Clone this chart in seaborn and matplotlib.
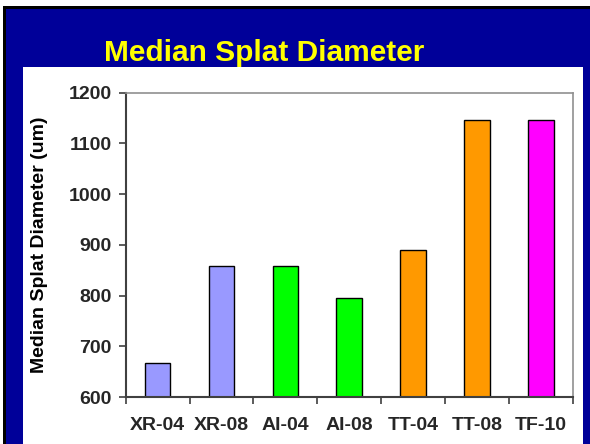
import matplotlib
matplotlib.use("Agg")
import matplotlib.pyplot as plt
from matplotlib.patches import Rectangle
import seaborn as sns
import pandas as pd

categories = ["XR-04", "XR-08", "AI-04", "AI-08", "TT-04", "TT-08", "TF-10"]
values = [668, 859, 859, 796, 890, 1146, 1146]
colors = ["#9999FF", "#9999FF", "#00FF00", "#00FF00", "#FF9900", "#FF9900", "#FF00FF"]
yticks = [600, 700, 800, 900, 1000, 1100, 1200]
title = "Median Splat Diameter"
ylabel = "Median Splat Diameter (um)"

sns.set_theme(style="white")
plt.rcParams["font.family"] = ["Liberation Sans", "DejaVu Sans"]
plt.rcParams["font.weight"] = "bold"

W, H = 590, 444
fig = plt.figure(figsize=(W / 100, H / 100), dpi=100)
fig.patch.set_facecolor("white")

def frect(x0, y0, x1, y1, color):
    # pixel coords (top-left origin) -> figure fraction
    fig.patches.append(Rectangle((x0 / W, 1 - y1 / H), (x1 - x0) / W, (y1 - y0) / H,
                                 transform=fig.transFigure, facecolor=color,
                                 edgecolor="none", zorder=-10))

frect(3, 6, W, H + 5, "black")
frect(6, 9, W, H + 5, "#000099")
frect(23, 67, 583, H + 5, "white")

ax = fig.add_axes([125.7 / W, 1 - 397 / H, (572.7 - 125.7) / W, (397 - 92.7) / H])
ax.set_facecolor("white")

df = pd.DataFrame({"cat": categories, "val": values})
sns.barplot(data=df, x="cat", y="val", hue="cat", palette=colors, legend=False,
            width=0.4, edgecolor="black", linewidth=1.0, ax=ax, saturation=1)

ax.set_ylim(600, 1200)
ax.set_xlim(-0.5, len(categories) - 0.5)
ax.set_yticks(yticks)
ax.set_yticklabels([str(t) for t in yticks], fontsize=14, fontweight="bold")
ax.set_xticks(range(len(categories)))
ax.set_xticklabels(categories, fontsize=14, fontweight="bold")
ax.set_xticks([i - 0.5 for i in range(len(categories) + 1)], minor=True)
ax.tick_params(axis="x", which="major", length=0, pad=14.5)
ax.tick_params(axis="x", which="minor", length=5, width=1.2, color="#404040", direction="out", bottom=True)
ax.tick_params(axis="y", which="major", length=5, width=1.2, color="#404040", direction="out", left=True, pad=5)
ax.set_xlabel("")
ax.set_ylabel(ylabel, fontsize=14, fontweight="bold", color="black")
ax.yaxis.set_label_coords(-0.174, 0.5)

for s in ["left", "bottom"]:
    ax.spines[s].set_color("#404040")
    ax.spines[s].set_linewidth(1.5)
for s in ["top", "right"]:
    ax.spines[s].set_color("#909090")
    ax.spines[s].set_linewidth(1.2)
    ax.spines[s].set_visible(True)

fig.text(264.5 / W, 1 - 60.7 / H, title, ha="center", va="baseline",
         fontsize=21.5, fontweight="bold", color="#FFFF00")

fig.savefig("out.png", dpi=100)
